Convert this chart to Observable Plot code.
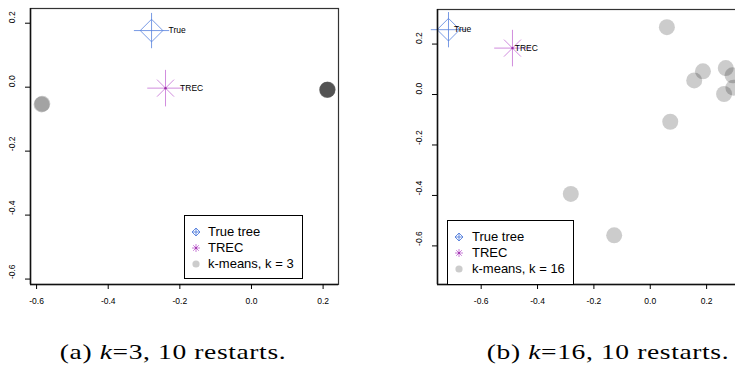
<!DOCTYPE html>
<html><head><meta charset="utf-8">
<script src="https://cdn.jsdelivr.net/npm/d3@7"></script>
<script src="https://cdn.jsdelivr.net/npm/@observablehq/plot@0.6"></script>
<style>
html,body{margin:0;padding:0;background:#fff;}
body{width:735px;height:375px;overflow:hidden;position:relative;font-family:"Liberation Sans",Arial,sans-serif;}
.panel{position:absolute;top:0;width:400px;height:320px;}
.legend{position:absolute;border:1px solid #000;background:#fff;box-sizing:border-box;font-size:13px;color:#000;}
.legend .row{position:absolute;left:0;height:16px;line-height:16px;white-space:nowrap;}
.legend .sym{position:absolute;top:0;width:12px;height:16px;}
.legend span{position:absolute;top:0;}
.caption{position:absolute;font-family:"Liberation Serif","DejaVu Serif",serif;font-size:22px;line-height:24px;letter-spacing:0.5px;white-space:nowrap;transform:translateX(-50%) scaleX(1.25);color:#000;}
</style></head>
<body>
<div id="pa" class="panel" style="left:0"></div>
<div id="pb" class="panel" style="left:370px"></div>
<div class="caption" id="capA" style="left:173px;top:340px">(a) <i>k</i>=3, 10 restarts.</div>
<div class="caption" id="capB" style="left:608px;top:340px">(b) <i>k</i>=16, 10 restarts.</div>
<script>
// ---- data ----
const xTicks = [-0.6, -0.4, -0.2, 0.0, 0.2];
const yTicks = [-0.6, -0.4, -0.2, 0.0, 0.2];

// panel (a): k = 3
const trueTreeA = [-0.279, 0.177];
const trecA = [-0.240, -0.003];
const kmeansAX = [-0.586, -0.584, 0.212, 0.212, 0.213, 0.211, 0.212];
const kmeansAY = [-0.054, -0.052, -0.008, -0.008, -0.007, -0.009, -0.008];
const limitsA = {x: [-0.617, 0.243], y: [-0.617, 0.246]};

// panel (b): k = 16
const trueTreeB = [-0.716, 0.257];
const trecB = [-0.489, 0.184];
const kmeansBX = [0.059, 0.187, 0.156, 0.268, 0.262, 0.071, -0.282, -0.128, 0.292, 0.295];
const kmeansBY = [0.267, 0.092, 0.056, 0.105, 0.002, -0.108, -0.394, -0.558, 0.076, 0.027];
const limitsB = {x: [-0.755, 0.338], y: [-0.753, 0.337]};

const legendLabels = ["True tree", "TREC"];
const kmeansLabelA = "k-means, k = 3";
const kmeansLabelB = "k-means, k = 16";

const BLUE = "#5580dd";
const PURPLE = "#c46fd4";
const PURPLE_DARK = "#9a2aa6";
const fmt = d => d.toFixed(1);

function panel({trueTree, trec, kx, ky, limits, marginLeft, marginRight, marginTop, width, trueDx, trecDx}) {
  const km = kx.map((x, i) => ({x, y: ky[i]}));
  return Plot.plot({
    width, height: 320,
    marginLeft, marginRight, marginTop, marginBottom: 36,
    x: {domain: limits.x, label: null},
    y: {domain: limits.y, label: null},
    style: {background: "transparent"},
    marks: [
      Plot.dot(km, {x: "x", y: "y", r: 8, fill: "#000", fillOpacity: 0.2}),
      Plot.dot([trueTree], {x: d => d[0], y: d => d[1], symbol: "diamond2", r: 10.2, stroke: BLUE, strokeWidth: 0.8}),
      Plot.dot([trueTree], {x: d => d[0], y: d => d[1], symbol: "plus", r: 11.4, stroke: BLUE, strokeWidth: 0.8}),
      Plot.dot([trec], {x: d => d[0], y: d => d[1], symbol: "plus", r: 11.8, stroke: PURPLE, strokeWidth: 0.8}),
      Plot.dot([trec], {x: d => d[0], y: d => d[1], symbol: "times", r: 7.8, stroke: PURPLE, strokeWidth: 0.8}),
      Plot.dot([trec], {x: d => d[0], y: d => d[1], r: 1.2, fill: PURPLE_DARK}),
      Plot.text([trueTree], {x: d => d[0], y: d => d[1], text: () => "True", textAnchor: "start", dx: trueDx, fontSize: 8.5, fontFamily: "Liberation Sans"}),
      Plot.text([trec], {x: d => d[0], y: d => d[1], text: () => "TREC", textAnchor: "start", dx: trecDx, fontSize: 8.5, fontFamily: "Liberation Sans"}),
      Plot.frame({stroke: "#333", strokeWidth: 1.2}),
      Plot.ruleX([limits.x[0]], {stroke: "#111", strokeWidth: 1.5}),
      Plot.ruleY([limits.y[0]], {stroke: "#111", strokeWidth: 1.5}),
      Plot.axisX(xTicks, {tickSize: 5, tickPadding: 8, tickFormat: fmt, fontSize: 8.5, fontFamily: "Liberation Sans", label: null}),
      Plot.axisY(yTicks, {tickSize: 5, text: null, label: null}),
      Plot.text(yTicks, {y: d => d, text: fmt, frameAnchor: "left", dx: -18, rotate: -90, fontSize: 8.5, fontFamily: "Liberation Sans"})
    ]
  });
}

document.getElementById("pa").append(panel({
  trueTree: trueTreeA, trec: trecA, kx: kmeansAX, ky: kmeansAY, limits: limitsA,
  marginLeft: 30, marginRight: 22, marginTop: 8, width: 360, trueDx: 17, trecDx: 14.6
}));
document.getElementById("pb").append(panel({
  trueTree: trueTreeB, trec: trecB, kx: kmeansBX, ky: kmeansBY, limits: limitsB,
  marginLeft: 67, marginRight: 25, marginTop: 9, width: 400, trueDx: 5.6, trecDx: 2.3
}));

// legends
function symTrue(s) {
  return `<svg class="sym" width="12" height="16" viewBox="-6 -8 12 16" style="left:-6px"><path d="M0,-${s}L${s},0L0,${s}L-${s},0Z M-${s},0H${s} M0,-${s}V${s}" fill="none" stroke="${BLUE}" stroke-width="0.9"/></svg>`;
}
function symTrec(s) {
  const d = (s * 0.7).toFixed(2);
  return `<svg class="sym" width="12" height="16" viewBox="-6 -8 12 16" style="left:-6px"><path d="M-${s},0H${s} M0,-${s}V${s} M-${d},-${d}L${d},${d} M-${d},${d}L${d},-${d}" fill="none" stroke="${PURPLE}" stroke-width="0.9"/><circle r="1" fill="${PURPLE_DARK}"/></svg>`;
}
function symDot(r) {
  return `<svg class="sym" width="12" height="16" viewBox="-6 -8 12 16" style="left:-6px"><circle r="${r}" fill="#cccccc"/></svg>`;
}
function legend(parent, {left, top, width, height, firstRow, symX, textX, kmLabel}) {
  const div = document.createElement("div");
  div.className = "legend";
  Object.assign(div.style, {left: left + "px", top: top + "px", width: width + "px", height: height + "px"});
  const syms = [symTrue(4), symTrec(4), symDot(3.6)];
  const labels = [...legendLabels, kmLabel];
  labels.forEach((lab, i) => {
    const row = document.createElement("div");
    row.className = "row";
    row.style.top = (firstRow + i * 16 - 8) + "px";
    row.innerHTML = `<div style="position:absolute;left:${symX}px;top:0">${syms[i]}</div><span style="left:${textX}px">${lab}</span>`;
    div.append(row);
  });
  parent.append(div);
}
legend(document.body, {left: 184, top: 215, width: 119, height: 64, firstRow: 16, symX: 11, textX: 23, kmLabel: kmeansLabelA});
legend(document.body, {left: 447, top: 220, width: 127, height: 65, firstRow: 16, symX: 11, textX: 24, kmLabel: kmeansLabelB});
</script>
</body></html>
